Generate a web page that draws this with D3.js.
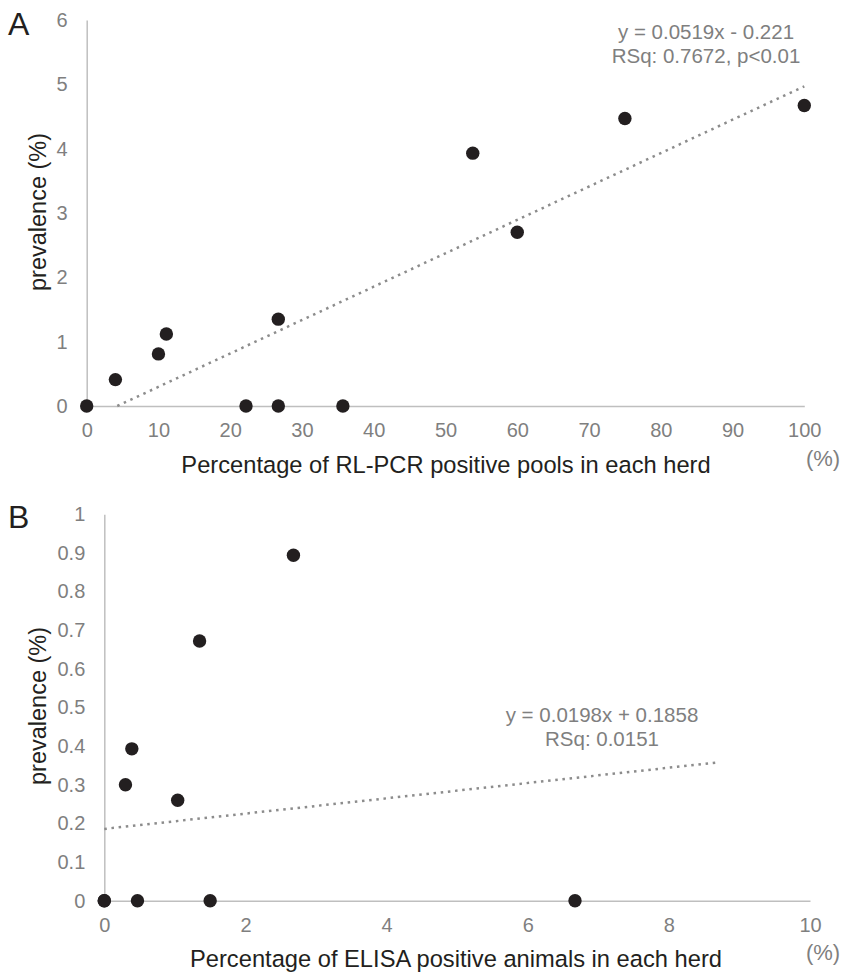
<!DOCTYPE html>
<html>
<head>
<meta charset="utf-8">
<script src="https://cdn.jsdelivr.net/npm/d3@7"></script>
<style>
  body { margin: 0; background: #fff; }
  svg { display: block; font-family: "Liberation Sans", Arial, sans-serif; }
  .domain { stroke: #bfbfbf; stroke-width: 1.5; }
  .tick text { fill: #7f7f7f; font-size: 20px; }
  .trend { fill: none; stroke: #8c8c8c; stroke-width: 2.5; stroke-dasharray: 2.5,4.7; }
  .dot { fill: #231f20; }
  .eq { fill: #7f7f7f; font-size: 20.5px; text-anchor: middle; }
</style>
</head>
<body>
<div id="chart"></div>
<script>
// panel A - RL-PCR pools vs prevalence
var pcrX = [0, 4, 10, 11.1, 22.2, 26.7, 26.7, 35.7, 53.8, 60, 75, 100];
var pcrY = [0, 0.41, 0.81, 1.12, 0, 1.35, 0, 0, 3.93, 2.70, 4.47, 4.67];
var pcrXTicks = [0, 10, 20, 30, 40, 50, 60, 70, 80, 90, 100];
var pcrYTicks = [0, 1, 2, 3, 4, 5, 6];
var pcrFit = [0.0519, -0.221];      // slope, intercept
var pcrFitRange = [4.26, 100];      // x where the dotted line starts / stops
var pcrEq = ["y = 0.0519x - 0.221", "RSq: 0.7672, p<0.01"];

// panel B - ELISA animals vs prevalence
var elisaX = [0, 0, 0.3, 0.39, 0.47, 1.04, 1.35, 1.5, 2.68, 6.67];
var elisaY = [0, 0, 0.30, 0.393, 0, 0.26, 0.672, 0, 0.894, 0];
var elisaXTicks = [0, 2, 4, 6, 8, 10];
var elisaYTicks = [0, 0.1, 0.2, 0.3, 0.4, 0.5, 0.6, 0.7, 0.8, 0.9, 1];
var elisaFit = [0.0198, 0.1858];
var elisaFitRange = [0, 8.68];
var elisaEq = ["y = 0.0198x + 0.1858", "RSq: 0.0151"];

var svg = d3.select("#chart").append("svg")
  .attr("width", 842)
  .attr("height", 975);

function drawPanel(cfg) {
  var x = d3.scaleLinear().domain([0, cfg.xTicks[cfg.xTicks.length - 1]]).range(cfg.xRange);
  var y = d3.scaleLinear().domain([0, cfg.yTicks[cfg.yTicks.length - 1]]).range(cfg.yRange);

  var g = svg.append("g");

  // axes, no tick marks, just the grey line
  g.append("g")
    .attr("transform", "translate(0," + cfg.yRange[0] + ")")
    .call(d3.axisBottom(x).tickValues(cfg.xTicks).tickSize(0).tickPadding(17).tickFormat(d3.format("")));
  g.append("g")
    .attr("transform", "translate(" + cfg.xRange[0] + ",0)")
    .call(d3.axisLeft(y).tickValues(cfg.yTicks).tickSize(0).tickPadding(19).tickFormat(d3.format("")));

  // dotted trend line
  var fit = cfg.fitRange.map(function(v) { return [v, cfg.fit[0] * v + cfg.fit[1]]; });
  g.append("path")
    .datum(fit)
    .attr("class", "trend")
    .attr("d", d3.line()
      .x(function(d) { return x(d[0]); })
      .y(function(d) { return y(d[1]); }));

  g.selectAll(".dot")
    .data(cfg.xs)
    .enter().append("circle")
    .attr("class", "dot")
    .attr("cx", function(d) { return x(d); })
    .attr("cy", function(d, i) { return y(cfg.ys[i]); })
    .attr("r", 6.7);

  // equation
  g.selectAll(".eq")
    .data(cfg.eq)
    .enter().append("text")
    .attr("class", "eq")
    .attr("x", cfg.eqPos[0])
    .attr("y", function(d, i) { return cfg.eqPos[1] + i * 24; })
    .text(function(d) { return d; });

  // titles
  g.append("text")
    .attr("x", cfg.xTitlePos[0])
    .attr("y", cfg.xTitlePos[1])
    .attr("text-anchor", "middle")
    .attr("font-size", 23.7)
    .attr("fill", "#231f20")
    .text(cfg.xTitle);
  g.append("text")
    .attr("x", 823)
    .attr("y", cfg.xTitlePos[1] - 7)
    .attr("text-anchor", "middle")
    .attr("font-size", 22)
    .attr("fill", "#7f7f7f")
    .text("(%)");
  g.append("text")
    .attr("transform", "translate(46," + cfg.yTitleY + ") rotate(-90)")
    .attr("text-anchor", "middle")
    .attr("font-size", 23.5)
    .attr("fill", "#231f20")
    .text("prevalence (%)");

  g.append("text")
    .attr("x", 8)
    .attr("y", cfg.labelY)
    .attr("font-size", 32)
    .attr("fill", "#231f20")
    .text(cfg.label);
}

drawPanel({
  label: "A", labelY: 35,
  xs: pcrX, ys: pcrY, xTicks: pcrXTicks, yTicks: pcrYTicks,
  xRange: [86.7, 804.3], yRange: [406, 20],
  fit: pcrFit, fitRange: pcrFitRange,
  eq: pcrEq, eqPos: [706, 39],
  xTitle: "Percentage of RL-PCR positive pools in each herd", xTitlePos: [446, 473],
  yTitleY: 212
});

drawPanel({
  label: "B", labelY: 528,
  xs: elisaX, ys: elisaY, xTicks: elisaXTicks, yTicks: elisaYTicks,
  xRange: [104.3, 810], yRange: [900.7, 514.3],
  fit: elisaFit, fitRange: elisaFitRange,
  eq: elisaEq, eqPos: [602, 722],
  xTitle: "Percentage of ELISA positive animals in each herd", xTitlePos: [456, 967],
  yTitleY: 706
});
</script>
</body>
</html>
